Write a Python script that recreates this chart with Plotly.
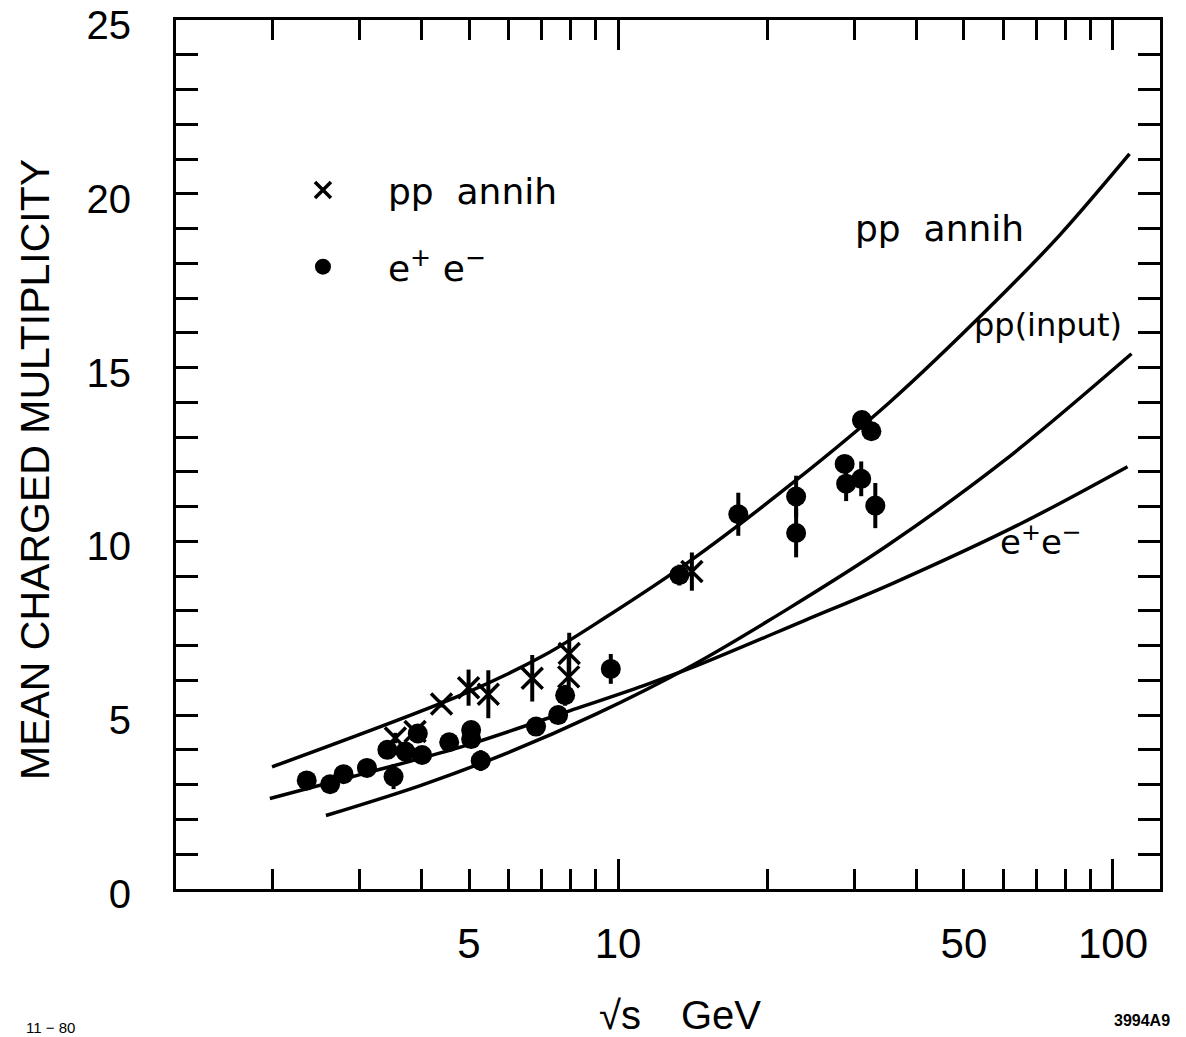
import plotly.graph_objects as go

# ---------------- data ----------------
# model curves
curve_pp_annih_x = [2.0, 4.88, 7.09, 9.41, 13.9, 22.9, 35.3, 56.7, 77.9, 108]
curve_pp_annih_y = [3.51, 5.61, 6.72, 7.80, 9.41, 11.76, 13.99, 16.78, 18.80, 21.15]

curve_pp_input_x = [2.57, 4.0, 6.0, 9.0, 14.0, 22.0, 35.0, 60.0, 109]
curve_pp_input_y = [2.11, 2.98, 3.92, 5.02, 6.40, 8.05, 9.88, 12.30, 15.40]

curve_ee_x = [1.98, 3.04, 4.86, 8.01, 11.27, 14.3, 23.8, 36.0, 64.9, 107]
curve_ee_y = [2.60, 3.30, 4.10, 5.13, 5.85, 6.40, 7.72, 8.80, 10.50, 12.15]

# e+e- measurements
ee_x = [2.35, 2.62, 2.79, 3.11, 3.42, 3.52, 3.72, 3.94, 4.02, 4.56, 5.05, 5.05, 5.28,
        6.83, 7.57, 7.82, 9.67, 13.3, 17.5, 22.9, 22.9, 28.7, 28.9, 31.0, 31.1, 32.5, 33.1]
ee_y = [3.12, 3.01, 3.30, 3.48, 4.00, 3.23, 3.95, 4.47, 3.85, 4.22, 4.57, 4.31, 3.69,
        4.67, 5.00, 5.57, 6.33, 9.03, 10.78, 11.29, 10.24, 12.23, 11.66, 11.80, 13.49, 13.17, 11.03]
ee_err = [0, 0, 0, 0, 0, 0.36, 0, 0, 0, 0, 0, 0, 0.30,
          0, 0, 0.30, 0.43, 0.30, 0.62, 0.60, 0.70, 0, 0.50, 0.50, 0, 0, 0.65]

# p-pbar annihilation measurements
pp_x = [3.55, 3.89, 4.40, 4.99, 5.47, 6.71, 7.97, 7.95, 14.1]
pp_y = [4.34, 4.53, 5.32, 5.79, 5.60, 6.06, 6.77, 6.10, 9.13]
pp_err = [0.15, 0.15, 0.10, 0.52, 0.69, 0.67, 0.60, 0.60, 0.55]

# axis ticks
x_tickvals = [2, 3, 4, 5, 6, 7, 8, 9, 10, 20, 30, 40, 50, 60, 70, 80, 90, 100]
x_ticktext = ["" if v not in (5, 10, 50, 100) else str(v) for v in x_tickvals]
x_long_ticks = [10, 100]
y_tickvals = list(range(0, 26))
y_ticktext = [str(v) if v % 5 == 0 else "" for v in y_tickvals]

XRANGE = [0.107, 2.095]  # log10
YRANGE = [-0.005, 25.005]

NUM_FONT = "Liberation Sans, Arial, sans-serif"
TXT_FONT = "DejaVu Sans, Liberation Sans, sans-serif"

fig = go.Figure()

curve_line = dict(color="black", width=3.5, shape="spline", smoothing=0.9)
for cx, cy in [(curve_pp_annih_x, curve_pp_annih_y),
               (curve_pp_input_x, curve_pp_input_y),
               (curve_ee_x, curve_ee_y)]:
    fig.add_trace(go.Scatter(x=cx, y=cy, mode="lines", line=curve_line,
                             showlegend=False, hoverinfo="skip", xaxis="x2"))

fig.add_trace(go.Scatter(
    x=pp_x, y=pp_y, mode="markers", name="pp  annih",
    marker=dict(symbol="x-thin-open", size=21, color="black",
                line=dict(width=3.5, color="black")),
    error_y=dict(type="data", array=pp_err, visible=True, color="black",
                 thickness=4, width=0),
    legendgroup="a"))

fig.add_trace(go.Scatter(
    x=ee_x, y=ee_y, mode="markers", name="e<sup>+</sup> e<sup>\u2212</sup>",
    marker=dict(symbol="circle", size=20, color="black"),
    error_y=dict(type="data", array=ee_err, visible=True, color="black",
                 thickness=4, width=0),
    legendgroup="b"))

axis_common = dict(showline=True, linecolor="black", linewidth=3, mirror="ticks",
                   ticks="inside", tickcolor="black", tickwidth=3, showgrid=False,
                   zeroline=False, ticklabeloverflow="allow", automargin=False)


def ann(text, x, y, size, font=TXT_FONT, **kw):
    d = dict(text=text, x=x, y=y, xref="paper", yref="paper", showarrow=False,
             xanchor="center", yanchor="middle", font=dict(size=size, family=font))
    d.update(kw)
    return d


TOP, BOTTOM = 20, 148
plot_h = 1037 - TOP - BOTTOM


def py(pixel_y):
    """paper y-coordinate for a pixel row of the page"""
    return (1037 - BOTTOM - pixel_y) / plot_h


fig.update_layout(
    width=1186, height=1037,
    margin=dict(l=176, r=26, t=TOP, b=BOTTOM, autoexpand=False),
    paper_bgcolor="white", plot_bgcolor="white",
    font=dict(family=NUM_FONT, color="black"),
    xaxis=dict(type="log", range=XRANGE, tickmode="array", tickvals=x_tickvals,
               ticktext=x_ticktext, ticklen=20, ticklabelstandoff=16,
               tickfont=dict(size=42, family=NUM_FONT), **axis_common),
    xaxis2=dict(type="log", range=XRANGE, overlaying="x", anchor="y", side="bottom",
                tickmode="array", tickvals=x_long_ticks, ticklen=30, showticklabels=False,
                showline=False, mirror="ticks", ticks="inside", tickcolor="black",
                tickwidth=3, showgrid=False, zeroline=False, automargin=False),
    yaxis=dict(range=YRANGE, tickmode="array", tickvals=y_tickvals, ticktext=y_ticktext,
               ticklen=22, ticklabelstandoff=34, ticklabelshift=5,
               tickfont=dict(size=40, family=NUM_FONT), **axis_common),
    legend=dict(x=0.0833, y=py(160), xanchor="left", yanchor="top",
                font=dict(size=36, family=TXT_FONT), bgcolor="rgba(0,0,0,0)",
                tracegroupgap=27, itemwidth=120),
    annotations=[
        ann("pp  annih", 0.7764, py(228), 36),
        ann("pp(input)", 0.886, py(325), 32),
        ann("e<sup>+</sup>e<sup>\u2212</sup>", 0.879, py(540), 34),
        ann("MEAN CHARGED MULTIPLICITY", 0, py(470), 41, font=NUM_FONT,
            textangle=-90, xshift=-141),
        ann("\u221As\u2003GeV", 0.512, py(1015), 40, font=NUM_FONT),
        ann("11 \u2212 80", -0.128, py(1027), 15, font=NUM_FONT),
        ann("<b>3994A9</b>", 0.982, py(1020), 16, font=NUM_FONT),
    ],
)

fig.write_html("out.html", config={"displayModeBar": False},
               post_script="document.body.style.margin='0px';")
